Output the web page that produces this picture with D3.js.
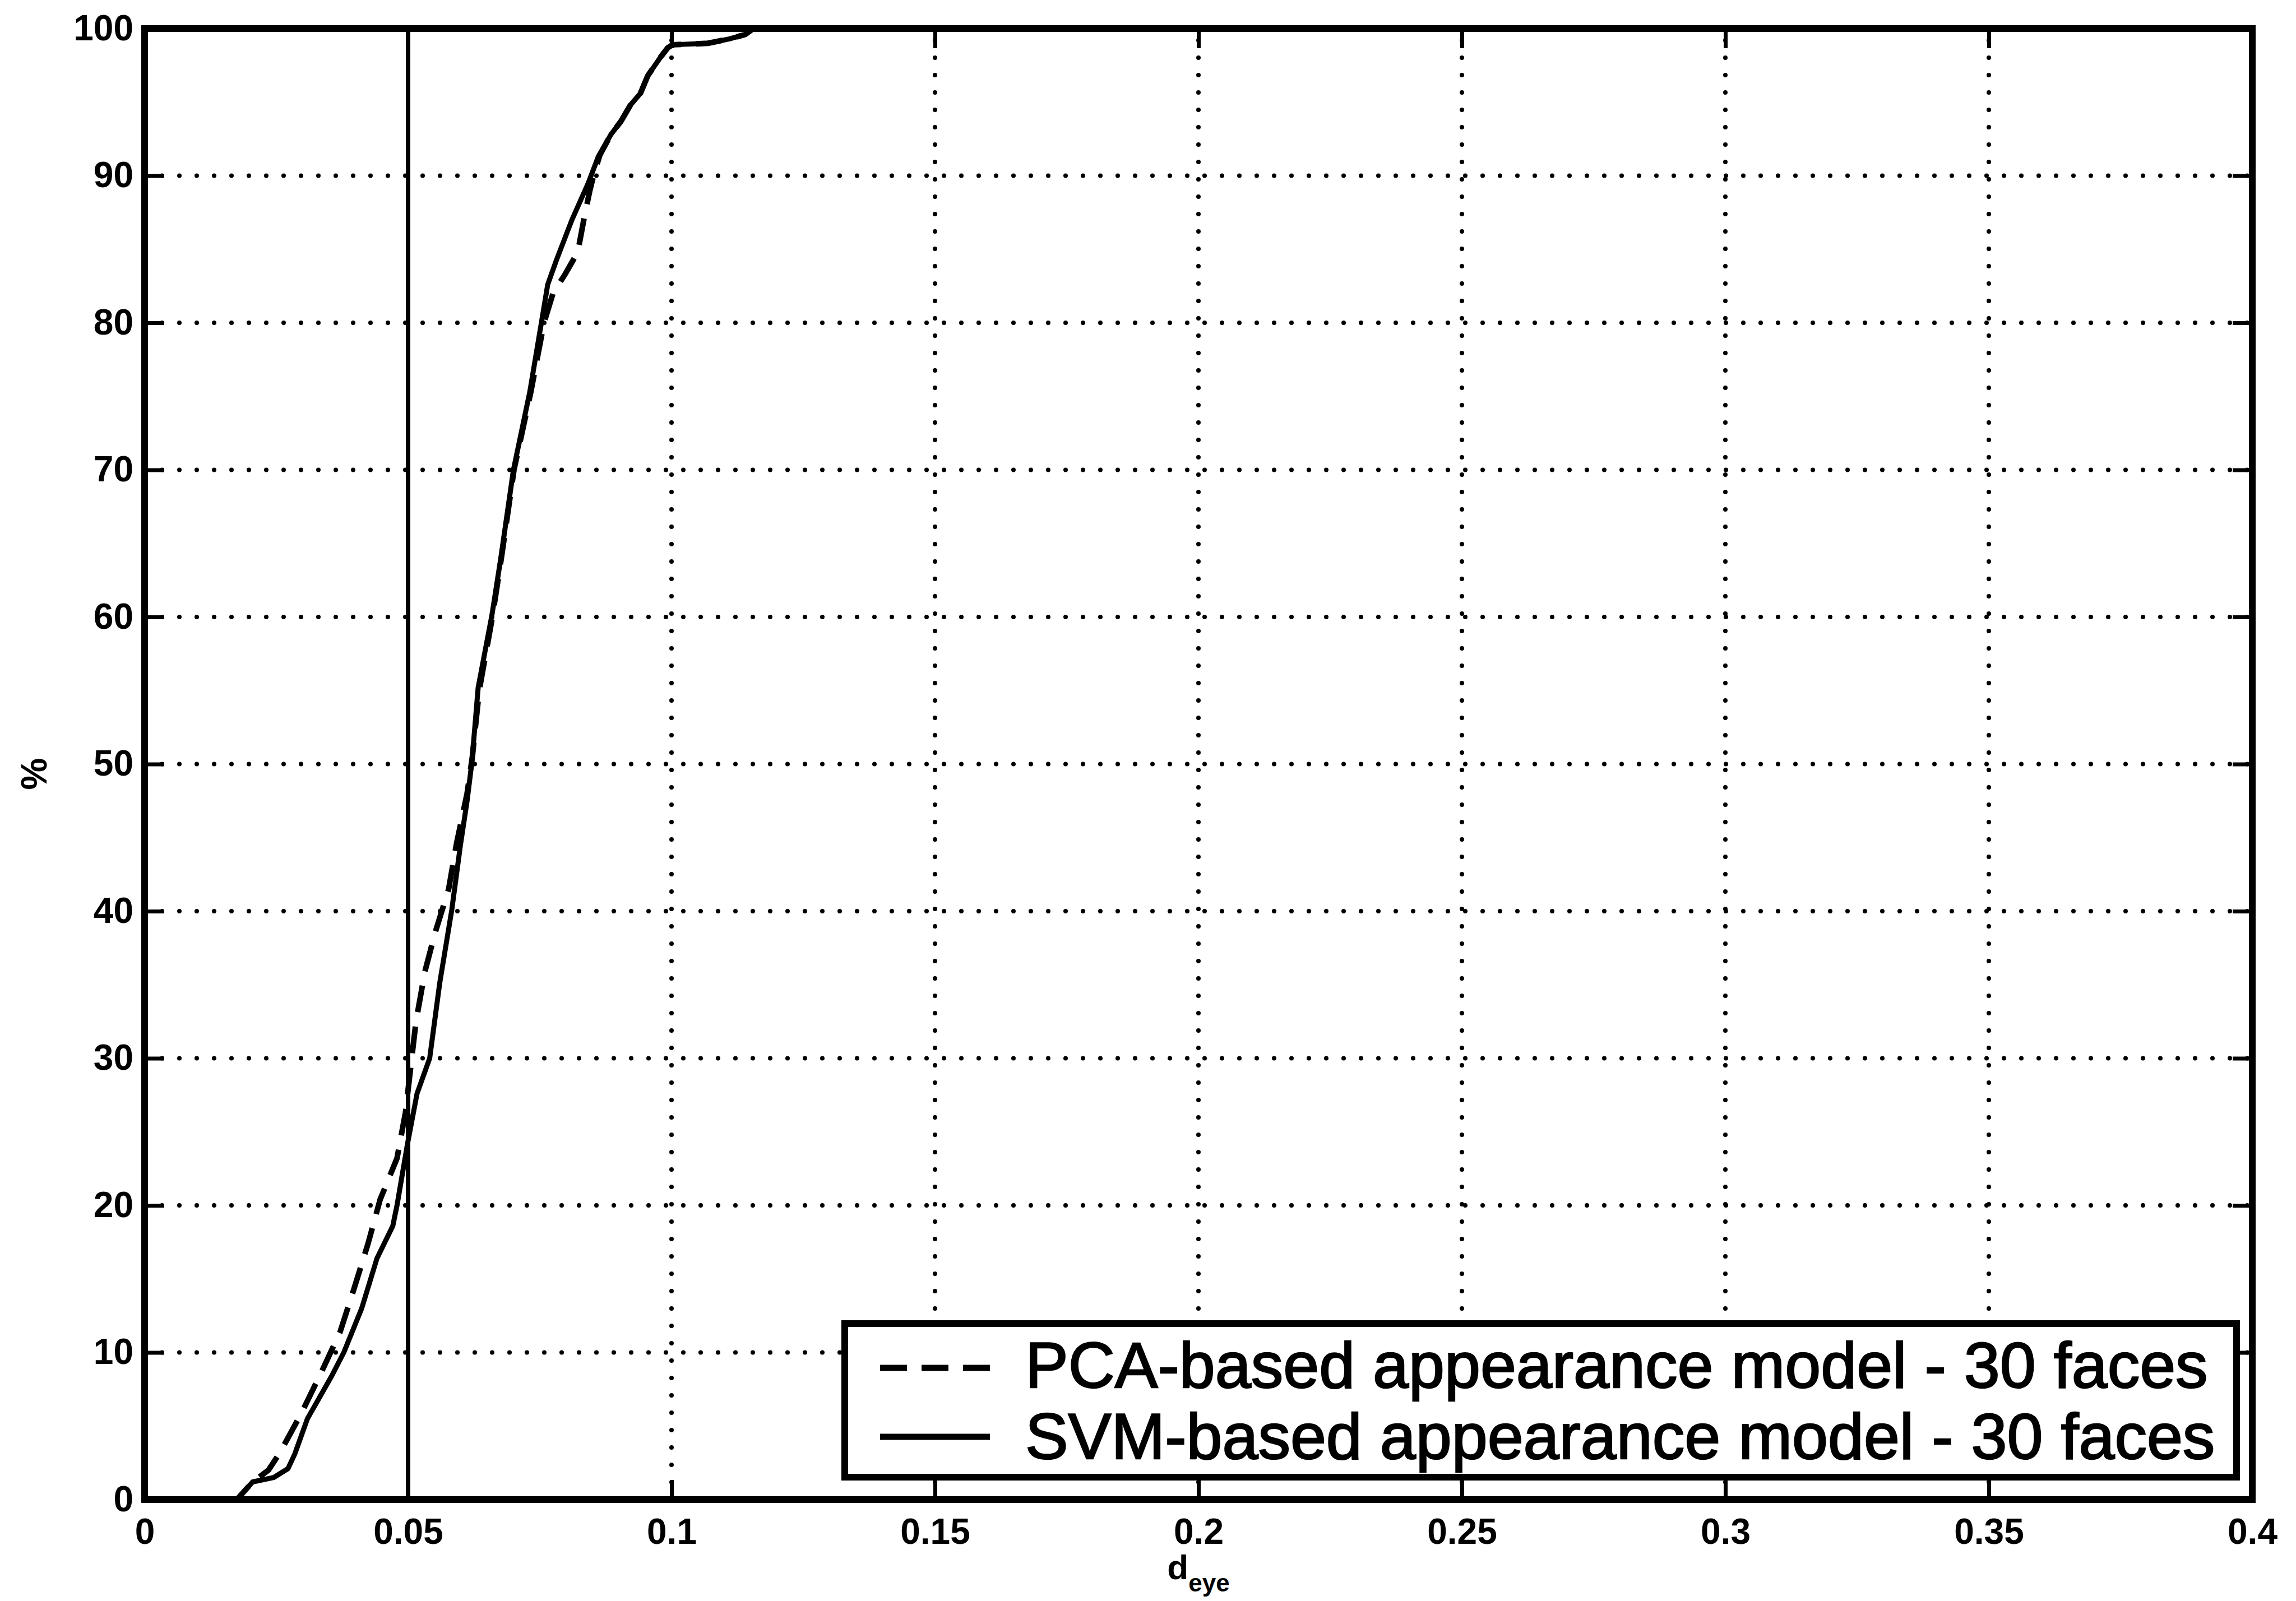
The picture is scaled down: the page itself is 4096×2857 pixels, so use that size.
<!DOCTYPE html>
<html><head><meta charset="utf-8">
<script src="https://cdn.jsdelivr.net/npm/d3@7"></script>
<style>html,body{margin:0;padding:0;background:#fff;} svg{display:block;}</style>
</head><body>
<svg id="chart" width="4096" height="2857"></svg>
<script>
// ---- data ----
const xTicks = [0, 0.05, 0.1, 0.15, 0.2, 0.25, 0.3, 0.35, 0.4];
const xTickLabels = ["0", "0.05", "0.1", "0.15", "0.2", "0.25", "0.3", "0.35", "0.4"];
const yTicks = [0, 10, 20, 30, 40, 50, 60, 70, 80, 90, 100];
const yTickLabels = ["0", "10", "20", "30", "40", "50", "60", "70", "80", "90", "100"];

const pcaX = [0, 0.0175, 0.0205, 0.0235, 0.0257, 0.0298, 0.0336, 0.0371, 0.0398, 0.0424,
  0.0447, 0.0479, 0.0495, 0.0515, 0.0532, 0.0551, 0.0577, 0.0592, 0.0612, 0.0622,
  0.0635, 0.0660, 0.0677, 0.0701, 0.0733, 0.0758, 0.0775, 0.0798, 0.0822, 0.0834,
  0.0845, 0.0852, 0.0864, 0.0885, 0.0904, 0.0922, 0.0941, 0.0955, 0.0980, 0.0993,
  0.1002, 0.1069, 0.1110, 0.1140, 0.1155, 0.4];
const pcaY = [0, 0, 1.2, 2.0, 3.2, 5.9, 8.7, 11.4, 14.4, 17.4,
  20.4, 23.2, 26.3, 32.5, 35.9, 38.5, 41.5, 44.6, 48, 50.5,
  55, 60, 64, 70, 75.3, 80, 82, 83.3, 84.8, 87.1,
  89, 90, 91.4, 92.8, 93.7, 94.8, 95.6, 96.8, 98.1, 98.7,
  98.9, 99.0, 99.3, 99.6, 100, 100];

const svmX = [0, 0.0175, 0.0205, 0.0245, 0.0272, 0.0285, 0.0297, 0.0309, 0.0336, 0.0355,
  0.0378, 0.0412, 0.0441, 0.0471, 0.0479, 0.0499, 0.0517, 0.0541, 0.0560, 0.0583,
  0.0599, 0.0612, 0.0621, 0.0633, 0.0659, 0.0676, 0.0700, 0.0731, 0.0753, 0.0765,
  0.0782, 0.0811, 0.0842, 0.0861, 0.0885, 0.0904, 0.0922, 0.0941, 0.0955, 0.0980,
  0.0993, 0.1002, 0.1069, 0.1110, 0.1140, 0.1155, 0.4];
const svmY = [0, 0, 1.2, 1.5, 2.1, 3.1, 4.3, 5.5, 7.2, 8.4,
  10, 13, 16.4, 18.6, 20, 24.2, 27.6, 30, 35.1, 40.1,
  44.4, 47.5, 50.1, 55.2, 60.1, 64, 70, 75.3, 80, 82.6,
  84.3, 87, 89.5, 91.3, 92.8, 93.7, 94.8, 95.6, 96.8, 98.1,
  98.7, 98.9, 99.0, 99.3, 99.6, 100, 100];

const thresholdX = [0.05];
const legendLabels = ["PCA-based appearance model - 30 faces", "SVM-based appearance model - 30 faces"];
const xLabelMain = "d", xLabelSub = "eye", yLabel = "%";

// ---- layout ----
const FONT = "'Liberation Sans', Arial, Helvetica, sans-serif";
const L = 258, R = 4018, T = 51, B = 2676;
const TICK = 35;
const svg = d3.select("#chart");
svg.append("rect").attr("width", 4096).attr("height", 2857).attr("fill", "#fff");

const x = d3.scaleLinear().domain([0, 0.4]).range([L, R]);
const y = d3.scaleLinear().domain([0, 100]).range([B, T]);

// grid (dotted)
const grid = svg.append("g").attr("stroke", "#000").attr("stroke-width", 8)
  .attr("stroke-linecap", "round").attr("stroke-dasharray", "0 31").attr("fill", "none");
grid.selectAll("line.vx").data(xTicks.slice(1, -1)).enter().append("line")
  .attr("x1", d => x(d)).attr("x2", d => x(d)).attr("y1", y(0)).attr("y2", y(100));
grid.selectAll("line.hy").data(yTicks.slice(1, -1)).enter().append("line")
  .attr("x1", x(0)).attr("x2", x(0.4)).attr("y1", d => y(d)).attr("y2", d => y(d));

// curves
const line = d3.line().x(d => x(d[0])).y(d => y(d[1]));
const pcaData = pcaX.map((v, i) => [v, pcaY[i]]);
const svmData = svmX.map((v, i) => [v, svmY[i]]);
svg.append("path").datum(pcaData).attr("d", line).attr("fill", "none")
  .attr("stroke", "#000").attr("stroke-width", 10).attr("stroke-dasharray", "48 26")
  .attr("stroke-linejoin", "round");
svg.append("path").datum(svmData).attr("d", line).attr("fill", "none")
  .attr("stroke", "#000").attr("stroke-width", 9).attr("stroke-linejoin", "round");

// threshold vertical line
svg.selectAll("line.thr").data(thresholdX).enter().append("line")
  .attr("x1", d => x(d)).attr("x2", d => x(d)).attr("y1", y(0)).attr("y2", y(100))
  .attr("stroke", "#000").attr("stroke-width", 8);

// axes with inward ticks
function styleAxis(g) {
  g.select(".domain").remove();
  g.selectAll(".tick line").attr("stroke", "#000").attr("stroke-width", 7);
  g.selectAll(".tick text").attr("fill", "#000").attr("font-family", FONT)
    .attr("font-weight", "bold").attr("font-size", 64);
}
svg.append("g").attr("transform", `translate(0,${B})`)
  .call(d3.axisBottom(x).tickValues(xTicks).tickFormat((d, i) => xTickLabels[i])
    .tickSizeInner(-TICK).tickSizeOuter(0).tickPadding(34)).call(styleAxis);
svg.append("g").attr("transform", `translate(${L},0)`)
  .call(d3.axisLeft(y).tickValues(yTicks).tickFormat((d, i) => yTickLabels[i])
    .tickSizeInner(-TICK).tickSizeOuter(0).tickPadding(20)).call(styleAxis);
svg.append("g").attr("transform", `translate(0,${T})`)
  .call(d3.axisTop(x).tickValues(xTicks).tickFormat("").tickSizeInner(-TICK).tickSizeOuter(0)).call(styleAxis);
svg.append("g").attr("transform", `translate(${R},0)`)
  .call(d3.axisRight(y).tickValues(yTicks).tickFormat("").tickSizeInner(-TICK).tickSizeOuter(0)).call(styleAxis);

// legend
const lg = svg.append("g");
lg.append("rect").attr("x", 1507).attr("y", 2362).attr("width", 3990 - 1507).attr("height", 2636 - 2362)
  .attr("fill", "#fff").attr("stroke", "#000").attr("stroke-width", 12);
const legendRows = [
  { label: legendLabels[0], dash: "48 26", ly: 2441, ty: 2476 },
  { label: legendLabels[1], dash: null, ly: 2564, ty: 2603 }
];
legendRows.forEach(r => {
  const ln = lg.append("line").attr("x1", 1570).attr("x2", 1766).attr("y1", r.ly).attr("y2", r.ly)
    .attr("stroke", "#000").attr("stroke-width", 11);
  if (r.dash) ln.attr("stroke-dasharray", r.dash);
  lg.append("text").attr("x", 1829).attr("y", r.ty).attr("font-family", FONT)
    .attr("font-size", 115).attr("fill", "#000").attr("stroke", "#000").attr("stroke-width", 2.5)
    .text(r.label);
});

// frame
svg.append("rect").attr("x", L).attr("y", T).attr("width", R - L).attr("height", B - T)
  .attr("fill", "none").attr("stroke", "#000").attr("stroke-width", 12);

// axis labels
const xl = svg.append("text").attr("x", (L + R) / 2).attr("y", 2818).attr("text-anchor", "middle")
  .attr("font-family", FONT).attr("font-weight", "bold").attr("font-size", 62).attr("fill", "#000");
xl.append("tspan").text(xLabelMain);
xl.append("tspan").attr("dy", 22).attr("font-size", 44).text(xLabelSub);

svg.append("text").attr("transform", "translate(61,1381) rotate(-90)")
  .attr("text-anchor", "middle").attr("dominant-baseline", "central")
  .attr("font-family", FONT).attr("font-weight", "bold").attr("font-size", 64).attr("fill", "#000")
  .text(yLabel);
</script>
</body></html>
